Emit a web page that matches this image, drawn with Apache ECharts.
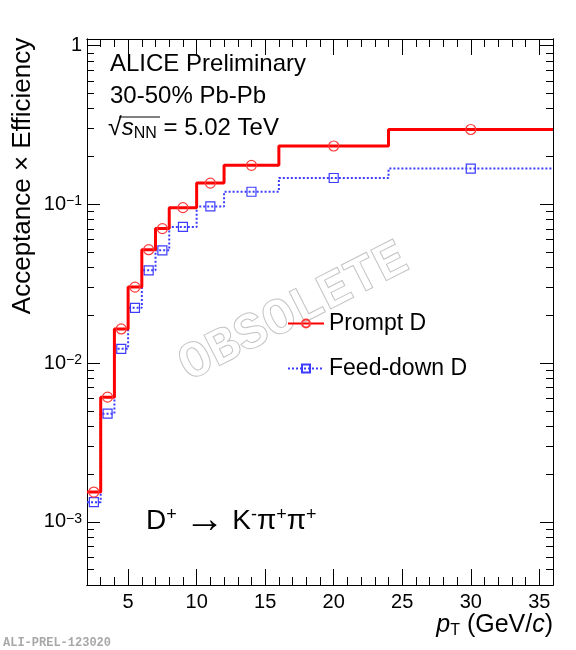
<!DOCTYPE html>
<html>
<head>
<meta charset="utf-8">
<script src="https://cdn.jsdelivr.net/npm/echarts@6/dist/echarts.min.js"></script>
<style>
html,body{margin:0;padding:0;background:#fff}
#chart{width:576px;height:650px}
</style>
</head>
<body>
<div id="chart"></div>
<script>
// pT bin edges (GeV/c) and acceptance x efficiency per bin
var ptEdges = [2, 3, 4, 5, 6, 7, 8, 10, 12, 16, 24, 36];
var promptEff = [0.00154, 0.0061, 0.0164, 0.0301, 0.0518, 0.0703, 0.0953, 0.136, 0.176, 0.233, 0.296];
var feedDownEff = [0.00133, 0.0048, 0.0123, 0.0223, 0.0384, 0.0513, 0.072, 0.097, 0.120, 0.1465, 0.168];

var xMajorTicks = [5, 10, 15, 20, 25, 30, 35];
var xMinorTicks = [3, 4, 6, 7, 8, 9, 11, 12, 13, 14, 16, 17, 18, 19, 21, 22, 23, 24, 26, 27, 28, 29, 31, 32, 33, 34];
var yMajorTicks = [0.001, 0.01, 0.1, 1];
var yMinorTicks = [0.0005, 0.0006, 0.0007, 0.0008, 0.0009,
                   0.002, 0.003, 0.004, 0.005, 0.006, 0.007, 0.008, 0.009,
                   0.02, 0.03, 0.04, 0.05, 0.06, 0.07, 0.08, 0.09,
                   0.2, 0.3, 0.4, 0.5, 0.6, 0.7, 0.8, 0.9];

var FONT = 'Liberation Sans';

// histogram outline: bin edges without marker, bin centres with marker
function stepData(vals) {
  var d = [];
  for (var i = 0; i < vals.length; i++) {
    d.push({value: [ptEdges[i], vals[i]], symbol: 'none'});
    d.push({value: [(ptEdges[i] + ptEdges[i + 1]) / 2, vals[i]]});
  }
  d.push({value: [ptEdges[ptEdges.length - 1], vals[vals.length - 1]], symbol: 'none'});
  return d;
}

function xAx(pos, ticks, len, labels) {
  return {
    type: 'value', min: 2, max: 36, position: pos,
    axisLine: {show: true, lineStyle: {color: '#000', width: 1}},
    axisTick: {show: true, inside: true, length: len, customValues: ticks, lineStyle: {color: '#000'}},
    axisLabel: {show: labels, customValues: ticks, margin: 7, fontSize: 20, color: '#000', fontFamily: FONT},
    splitLine: {show: false}
  };
}

function yAx(pos, ticks, len, labels) {
  return {
    type: 'log', logBase: 10, min: 0.0004, max: 1.1, position: pos,
    axisLine: {show: true, lineStyle: {color: '#000', width: 1}},
    axisTick: {show: true, inside: true, length: len, customValues: ticks, lineStyle: {color: '#000'}},
    axisLabel: {
      show: labels, customValues: ticks, margin: 5, color: '#000', fontFamily: FONT, fontSize: 20,
      formatter: function (v) {
        var p = Math.round(Math.log10(v));
        if (p === 0) return '1';
        return '10{sup|\u2212' + (-p) + '}';
      },
      rich: {sup: {fontSize: 14, verticalAlign: 'top', lineHeight: 11, fontFamily: FONT, color: '#000'}}
    },
    splitLine: {show: false}
  };
}

var chart = echarts.init(document.getElementById('chart'));
chart.setOption({
  animation: false,
  backgroundColor: '#fff',
  grid: {left: 87, right: 23, top: 39, bottom: 65},
  xAxis: [
    xAx('bottom', xMajorTicks, 16, true),
    xAx('bottom', xMinorTicks, 8, false),
    xAx('top', xMajorTicks, 16, false),
    xAx('top', xMinorTicks, 8, false)
  ],
  yAxis: [
    yAx('left', yMajorTicks, 13, true),
    yAx('left', yMinorTicks, 7, false),
    yAx('right', yMajorTicks, 13, false),
    yAx('right', yMinorTicks, 7, false)
  ],
  legend: {
    data: ['Prompt D', 'Feed-down D'],
    orient: 'vertical', left: 282, top: 307,
    itemWidth: 36, itemHeight: 10, itemGap: 22,
    selectedMode: false,
    textStyle: {fontSize: 23, fontFamily: FONT, color: '#000'}
  },
  series: [
    {
      name: 'Feed-down D', type: 'line', step: 'end', xAxisIndex: 0, yAxisIndex: 0,
      data: stepData(feedDownEff), symbol: 'rect', symbolSize: 9, z: 3,
      lineStyle: {color: '#3c3cff', width: 2, type: [2, 2]},
      itemStyle: {color: 'rgba(255,255,255,0)', borderColor: '#3c3cff', borderWidth: 1.2}
    },
    {
      name: 'Prompt D', type: 'line', step: 'end', xAxisIndex: 0, yAxisIndex: 0,
      data: stepData(promptEff), symbol: 'circle', symbolSize: 10, z: 4,
      lineStyle: {color: '#ff0000', width: 3},
      itemStyle: {color: 'rgba(255,255,255,0)', borderColor: '#ff3a3a', borderWidth: 1.2}
    }
  ],
  graphic: [
    {type: 'text', left: 3, top: 637, z: 1,
     style: {text: 'ALI-PREL-123020', font: 'bold 12px "Liberation Mono"', fill: '#a8a8a8'}},
    {type: 'text', x: 294, y: 313, rotation: 27 * Math.PI / 180, z: 0,
     style: {text: 'OBSOLETE', font: 'bold 52px "Liberation Mono"', fill: 'rgba(255,255,255,0)',
             stroke: '#c4c4c4', lineWidth: 1, align: 'center', verticalAlign: 'middle'}},
    {type: 'text', x: 23, y: 176, rotation: Math.PI / 2, z: 5,
     style: {text: 'Acceptance \u00d7 Efficiency', font: '26px "Liberation Sans"', fill: '#000',
             align: 'center', verticalAlign: 'middle'}},
    {type: 'text', x: 110, y: 64, z: 5,
     style: {text: 'ALICE Preliminary', font: '24px "Liberation Sans"', fill: '#000', verticalAlign: 'middle'}},
    {type: 'text', x: 110, y: 96, z: 5,
     style: {text: '30-50% Pb-Pb', font: '24px "Liberation Sans"', fill: '#000', verticalAlign: 'middle'}},
    {type: 'text', x: 108, y: 128, z: 5,
     style: {text: '{r|\u221a}{s|s}{sub|NN} = 5.02 TeV', font: '24px "Liberation Sans"', fill: '#000',
             verticalAlign: 'middle',
             rich: {
               r: {fontSize: 25, fontFamily: FONT, lineHeight: 27},
               s: {fontSize: 24, fontStyle: 'italic', fontFamily: FONT, lineHeight: 27},
               sub: {fontSize: 16, fontFamily: FONT, verticalAlign: 'bottom', lineHeight: 12}
             }}},
    {type: 'line', z: 5, shape: {x1: 119, y1: 117, x2: 160, y2: 117}, style: {stroke: '#000', lineWidth: 1}},
    {type: 'text', x: 146, y: 521, z: 5,
     style: {text: 'D{sup|+} {arr|\u2192} K{sup|-}\u03c0{sup|+}\u03c0{sup|+}', font: '28px "Liberation Sans"', fill: '#000',
             verticalAlign: 'middle',
             rich: {
               sup: {fontSize: 18, fontFamily: FONT, verticalAlign: 'top', lineHeight: 15},
               arr: {fontSize: 40, fontFamily: FONT, lineHeight: 30}
             }}},
    {type: 'text', x: 553, y: 625, z: 5,
     style: {text: '{i|p}{sub|T} (GeV/{i|c})', font: '25px "Liberation Sans"', fill: '#000',
             align: 'right', verticalAlign: 'middle',
             rich: {
               i: {fontSize: 25, fontStyle: 'italic', fontFamily: FONT, lineHeight: 28},
               sub: {fontSize: 16, fontFamily: FONT, verticalAlign: 'bottom', lineHeight: 10}
             }}}
  ]
});
</script>
</body>
</html>
